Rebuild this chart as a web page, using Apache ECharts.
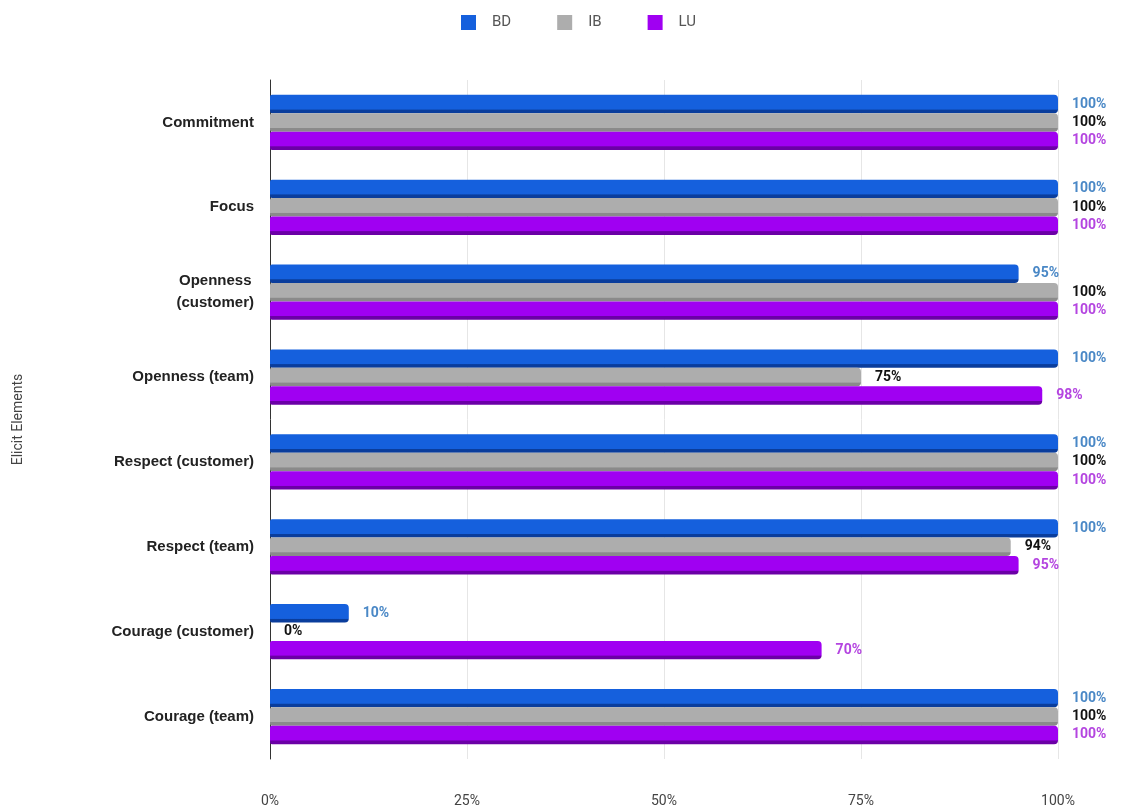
<!DOCTYPE html>
<html>
<head>
<meta charset="utf-8">
<script src="https://cdn.jsdelivr.net/npm/echarts@6/dist/echarts.min.js"></script>
<style>
  html, body { margin: 0; padding: 0; background: #fff; }
  #chart { width: 1131px; height: 809px; }
</style>
</head>
<body>
<div id="chart"></div>
<script>
const categories = [
  'Commitment',
  'Focus',
  'Openness\n(customer)',
  'Openness (team)',
  'Respect (customer)',
  'Respect (team)',
  'Courage (customer)',
  'Courage (team)'
]
const bdValues = [100, 100, 95, 100, 100, 100, 10, 100]
const ibValues = [100, 100, 100, 75, 100, 94, 0, 100]
const luValues = [100, 100, 100, 98, 100, 95, 70, 100]
const xTicks = [0, 25, 50, 75, 100]

const chart = echarts.init(document.getElementById('chart'))

// bar fill with a darker strip at the bottom, gives the 3d look
const barFill = (main, dark) => new echarts.graphic.LinearGradient(0, 0, 0, 1, [
  { offset: 0, color: main },
  { offset: 0.78, color: main },
  { offset: 0.82, color: dark },
  { offset: 1, color: dark }
])

const makeSeries = (name, values, main, dark, labelColor) => ({
  name: name,
  type: 'bar',
  data: values,
  barGap: '0%',
  barCategoryGap: '35%',
  itemStyle: {
    color: barFill(main, dark),
    borderRadius: [2, 4, 4, 2]
  },
  label: {
    show: true,
    position: 'right',
    distance: 14,
    formatter: '{c}%',
    fontFamily: 'Roboto, sans-serif',
    fontWeight: 'bold',
    fontSize: 14,
    color: labelColor
  }
})

const option = {
  animation: false,
  color: ['#1560dd', '#adadad', '#a000f2'],
  legend: {
    top: 10,
    left: 456,
    itemWidth: 15,
    itemHeight: 15,
    itemGap: 46,
    icon: 'rect',
    textStyle: { color: '#555', fontSize: 15, padding: [0, 0, 0, 11], fontFamily: 'Roboto, sans-serif' },
    data: [
      { name: 'BD', itemStyle: { color: '#1560dd' } },
      { name: 'IB', itemStyle: { color: '#adadad' } },
      { name: 'LU', itemStyle: { color: '#a000f2' } }
    ]
  },
  grid: { left: 270, right: 73, top: 80, bottom: 50 },
  xAxis: {
    type: 'value',
    min: xTicks[0],
    max: xTicks[xTicks.length - 1],
    interval: 25,
    axisLabel: {
      formatter: '{value}%',
      color: '#444',
      fontSize: 14,
      margin: 35,
      fontFamily: 'Roboto, sans-serif'
    },
    axisLine: { show: false },
    splitLine: { lineStyle: { color: '#e6e6e6' } }
  },
  yAxis: {
    type: 'category',
    inverse: true,
    data: categories,
    name: 'Elicit Elements',
    nameLocation: 'middle',
    nameGap: 245,
    nameRotate: 90,
    nameTextStyle: { color: '#444', fontSize: 14, fontFamily: 'Roboto, sans-serif' },
    axisLine: { show: true, lineStyle: { color: '#333' } },
    axisTick: { show: false },
    axisLabel: {
      color: '#222',
      fontSize: 15,
      fontWeight: 'bold',
      margin: 16,
      align: 'right',
      lineHeight: 22,
      fontFamily: '"Liberation Sans", Arial, sans-serif',
      formatter: v => v.includes('\n') ? v.split('\n').map(s => '{c|' + s + '}').join('\n') : v,
      rich: {
        c: { align: 'center', fontSize: 15, fontWeight: 'bold', color: '#222', lineHeight: 22, fontFamily: '"Liberation Sans", Arial, sans-serif' }
      }
    }
  },
  series: [
    makeSeries('BD', bdValues, '#1560dd', '#0a3d9c', '#4a88c6'),
    makeSeries('IB', ibValues, '#adadad', '#8a8a8a', '#111'),
    makeSeries('LU', luValues, '#a000f2', '#6b00a6', '#b445e0')
  ]
}

chart.setOption(option)
</script>
</body>
</html>
